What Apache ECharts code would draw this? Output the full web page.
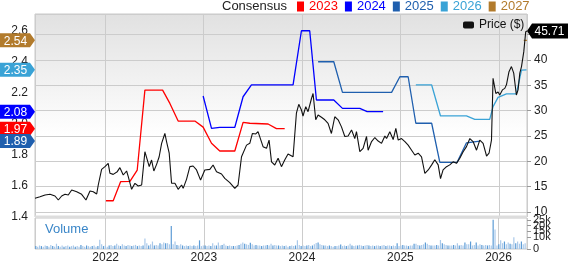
<!DOCTYPE html>
<html><head><meta charset="utf-8">
<script src="https://cdn.jsdelivr.net/npm/echarts@6/dist/echarts.min.js"></script>
<style>html,body{margin:0;padding:0;background:#fff}#c{width:568px;height:264px}</style>
</head><body><div id="c"></div>
<script>
// ---- data (x values are fractional years) ----
const priceT = [2021.286,2021.337,2021.388,2021.439,2021.489,2021.523,2021.557,2021.591,2021.624,2021.659,2021.710,2021.760,2021.804,2021.845,2021.878,2021.913,2021.929,2021.963,2021.997,2022.030,2022.048,2022.081,2022.122,2022.149,2022.183,2022.217,2022.234,2022.268,2022.302,2022.335,2022.370,2022.403,2022.420,2022.447,2022.471,2022.494,2022.522,2022.548,2022.573,2022.606,2022.623,2022.650,2022.674,2022.708,2022.741,2022.776,2022.792,2022.826,2022.860,2022.893,2022.928,2022.969,2023.012,2023.063,2023.096,2023.131,2023.182,2023.215,2023.266,2023.317,2023.350,2023.385,2023.436,2023.469,2023.496,2023.530,2023.553,2023.571,2023.604,2023.639,2023.665,2023.690,2023.723,2023.757,2023.791,2023.824,2023.858,2023.909,2023.943,2023.967,2023.994,2024.010,2024.038,2024.061,2024.096,2024.112,2024.139,2024.163,2024.197,2024.231,2024.264,2024.298,2024.332,2024.366,2024.400,2024.434,2024.467,2024.502,2024.535,2024.552,2024.586,2024.619,2024.654,2024.670,2024.705,2024.738,2024.772,2024.806,2024.840,2024.857,2024.890,2024.924,2024.951,2024.975,2025.009,2025.043,2025.076,2025.111,2025.144,2025.178,2025.212,2025.246,2025.280,2025.315,2025.347,2025.381,2025.405,2025.431,2025.466,2025.499,2025.533,2025.567,2025.601,2025.635,2025.669,2025.703,2025.736,2025.771,2025.804,2025.838,2025.873,2025.898,2025.923,2025.939,2025.967,2025.990,2026.007,2026.034,2026.058,2026.075,2026.101,2026.126,2026.149,2026.176,2026.193,2026.211,2026.228,2026.251,2026.271,2026.284];
const priceV = [12.7,13.0,13.36,13.49,13.16,12.37,13.16,13.49,13.36,14.34,14.0,13.49,12.37,14.14,14.0,13.55,15.33,18.42,18.95,19.6,17.63,17.43,17.96,18.75,17.3,18.09,16.97,14.47,15.66,15.13,15.33,21.9,21.7,18.95,20.26,18.09,19.4,20.9,23.55,25.5,23.9,21.6,15.66,15.66,14.47,15.33,14.67,16.45,18.95,19.08,18.3,16.3,18.3,18.42,19.28,17.96,17.5,16.65,15.8,14.67,15.33,20.9,23.2,23.55,25.5,25.4,25.85,26.2,22.9,22.57,24.2,19.9,19.28,20.6,18.95,20.26,21.45,20.9,29.5,31.25,30.13,28.95,30.8,29.8,32.4,33.4,28.2,29.14,28.7,28.2,27.5,25.5,28.8,28.2,26.8,24.9,25.0,26.2,24.5,25.85,21.9,22.57,24.9,22.2,23.9,24.7,24.0,23.55,25.0,24.5,25.85,24.3,26.5,24.2,24.5,23.9,23.2,22.2,21.25,21.6,20.9,17.6,18.3,19.3,20.3,19.3,16.6,18.3,18.95,19.3,19.9,19.6,20.6,21.9,22.9,24.5,23.9,22.2,24.2,23.55,21.05,21.6,24.2,36.4,33.4,33.7,33.1,34.1,34.4,35.1,37.7,38.7,37.4,33.1,34.1,37.4,38.7,41.6,45.6,45.71];

const c2023T = [2022.007,2022.081,2022.156,2022.251,2022.325,2022.403,2022.583,2022.657,2022.741,2022.911,2022.995,2023.080,2023.164,2023.317,2023.401,2023.469,2023.655,2023.740,2023.824];
const c2023V = [1.505,1.505,1.628,1.63,1.703,2.219,2.219,2.133,2.019,2.019,1.98,1.876,1.826,1.826,2.011,2.005,2.0,1.97,1.97];
const c2024T = [2022.995,2023.080,2023.164,2023.317,2023.401,2023.486,2023.909,2023.994,2024.078,2024.146,2024.322,2024.410,2024.586,2024.660,2024.822];
const c2024V = [2.181,1.972,1.979,1.979,2.176,2.252,2.252,2.602,2.602,2.155,2.155,2.101,2.101,2.08,2.08];
const c2025T = [2024.163,2024.322,2024.410,2024.908,2024.992,2025.076,2025.154,2025.315,2025.398,2025.574,2025.669,2025.804];
const c2025V = [2.402,2.402,2.204,2.204,2.305,2.305,2.005,2.005,1.753,1.753,1.879,1.89];
const c2026T = [2025.154,2025.315,2025.405,2025.669,2025.753,2025.905,2025.939,2025.990,2026.075,2026.176,2026.228,2026.279];
const c2026V = [2.252,2.252,2.052,2.052,2.03,2.03,2.112,2.172,2.195,2.195,2.348,2.35];
const c2027T = [2026.251,2026.284];
const c2027V = [2.54,2.54];

// weekly volume (thousands), first week starting 2021-04-16
const volStart = '2021-04-16';
const volumeK = [
2.5,2,3,2.5,2,3,2.5,2,3.5,2.5,
2,4.5,2.5,2,3,2,2.5,3,2,2.5,
3,2,2.5,2,3.5,2.5,2,3,2.5,2,
2.5,3,2,2.5,8,4,2.5,3,2,3,
3.5,2.5,3,4.5,3,2.5,4,3,2.5,3.5,
3,2.5,3,3.5,2.5,3,2.5,3,9,5,
3,4,6.4,3,3.5,3,5,4,5.5,5,
5,4,19.7,4,6.4,3.5,3,4,3,2.5,
3,2.5,3,2.5,3,2.5,3,7.4,2.5,3,
3,2.5,3,2.5,5,3,3,5.6,3,3.5,
4.4,3,2.5,3,2.5,2.5,2.5,3,3.5,4.5,
5.6,4.5,4,3.5,5.4,4,3,3.5,3,3,
2.5,3,3,3.5,3,4.4,3,3.5,3,3,
2.5,3,2.5,3,2,2.5,3,2.5,3,7.4,
3.5,2.5,3,2.5,3,3.5,2.5,3,4,5.1,
5.6,4,3.5,3,3,2.5,3,2.5,2,2.5,
2.5,3,3.8,2.5,3,2.5,3,4.4,3,2.5,
3,3,3.5,3,2.5,3,3.5,3,2.5,3,
2.5,3,3,2.5,3,3.5,2.5,3,3,2.5,
3,2.5,4.9,2.5,3,3.5,3,3,2.5,3,
3,4.4,4.4,3.5,3,3.5,4,5.6,4.5,3.5,
3,3,3,3.5,3,7.7,4.9,4,3.5,3,
3,3,3.5,3,4.9,3,3.5,3,5.6,4,
4,6.4,3,3.5,5.6,3,4,3.5,3,3.5,
3,3.5,3,25,16.7,3,4,7.4,5,6.4,
4,5.6,4.5,4,10,5,6.4,4.5,6.4,4,4.9];

const years = ['2023','2024','2025','2026','2027'];
const yearColors = ['#ff0000','#0000ff','#1f5fae','#3aa3d6','#b27b2c'];
const xRange = [2021.286, 2026.284];

// ---- helpers ----
function ts(y){const yi=Math.floor(y);const a=Date.UTC(yi,0,1),b=Date.UTC(yi+1,0,1);return a+(y-yi)*(b-a);}
function pairs(T,V){return T.map((t,i)=>[ts(t),V[i]]);}
const F = 'Liberation Sans, Arial, sans-serif';
const xMin = ts(xRange[0]), xMax = ts(xRange[1]);
const volStartMs = Date.parse(volStart + 'T00:00:00Z');
const volData = volumeK.map((v,i)=>[volStartMs + i*7*86400000, v]);

const L = 35, R = 41, TOP = 14;
const leftTag = 'path://M0,0 H30 L35,7 L30,14 H0 Z';
const rightTag = 'path://M5,0 H41 V14 H5 L0,7 Z';

function yearFmt(v){const d=new Date(v);return (d.getUTCMonth()===0&&d.getUTCDate()===1)?String(d.getUTCFullYear()):'';}

const consT = [c2023T,c2024T,c2025T,c2026T,c2027T];
const consV = [c2023V,c2024V,c2025V,c2026V,c2027V];
const consSeries = years.map((y,k)=>{
  const last = consV[k][consV[k].length-1];
  return {
    name:y, type:'line', xAxisIndex:0, yAxisIndex:0, data:pairs(consT[k],consV[k]),
    showSymbol:false, symbol:'none', color:yearColors[k],
    lineStyle:{width:1.3,color:yearColors[k]}, animation:false, z:3,
    markPoint:{silent:true, animation:false,
      symbol:leftTag, symbolSize:[35,14], symbolOffset:[-17.5,0],
      itemStyle:{color:yearColors[k]},
      label:{show:true,position:'inside',offset:[-2,1],color:'#fff',fontSize:12,fontFamily:F,formatter:()=>last.toFixed(2)},
      data:[{coord:[xMin,last]}]}
  };
});
const lastPrice = priceV[priceV.length-1];

const chart = echarts.init(document.getElementById('c'), null, {renderer:'canvas'});
chart.setOption({
  animation:false,
  useUTC:true,
  textStyle:{fontFamily:F},
  title:{text:'Consensus', left:222, top:0, padding:0, textStyle:{fontSize:13,fontWeight:'normal',color:'#222',fontFamily:F}},
  legend:[
    {left:297, top:0, padding:0, itemGap:7, itemWidth:7, itemHeight:10, icon:'rect',
     textStyle:{fontSize:13,fontFamily:F},
     data:years.map((y,k)=>({name:y, textStyle:{color:yearColors[k]}}))},
    {left:463, top:19, padding:0, itemWidth:11, itemHeight:7, icon:'roundRect',
     textStyle:{fontSize:12,color:'#111',fontFamily:F}, data:['Price ($)']}
  ],
  graphic:[
    {type:'rect', z:-100, silent:true, shape:{x:L,y:TOP,width:568-L-R,height:203},
     style:{fill:new echarts.graphic.LinearGradient(0,0,0,1,[{offset:0,color:'#e1e1e1'},{offset:0.6,color:'#ffffff'},{offset:1,color:'#ffffff'}])}},
    {type:'rect', z:50, silent:true, shape:{x:L,y:215.5,width:568-L-R,height:2.5}, style:{fill:'#dddddd'}},
    {type:'text', z:50, silent:true, left:45, top:223, style:{text:'Volume', fill:'#3a86c8', font:'13px '+F}}
  ],
  grid:[
    {left:L, right:R, top:TOP, height:203, show:true, borderColor:'#c8c8c8', borderWidth:1, backgroundColor:'transparent'},
    {left:L, right:R, top:TOP, height:198, show:false},
    {left:L, right:R, top:218, height:36, show:true, borderColor:'#c8c8c8', borderWidth:1, backgroundColor:'#fff'}
  ],
  xAxis:[
    {type:'time', gridIndex:0, min:xMin, max:xMax, splitNumber:5, minInterval:365*86400000,
     axisLine:{show:false}, axisTick:{show:false}, axisLabel:{show:false},
     splitLine:{show:true, lineStyle:{color:'#cccccc',width:1}}},
    {type:'time', gridIndex:1, min:xMin, max:xMax, show:false, splitLine:{show:false}},
    {type:'time', gridIndex:2, min:xMin, max:xMax, splitNumber:5, minInterval:365*86400000,
     axisLine:{show:false}, axisTick:{show:false},
     axisLabel:{show:true, formatter:yearFmt, fontSize:12, color:'#222', margin:3, fontFamily:F, showMinLabel:false, showMaxLabel:false},
     splitLine:{show:true, lineStyle:{color:'#cccccc',width:1}}}
  ],
  yAxis:[
    {type:'value', gridIndex:0, position:'left', min:1.4, max:2.71, interval:0.2,
     axisLine:{show:false}, axisTick:{show:false}, splitLine:{show:false},
     axisLabel:{fontSize:12, color:'#222', margin:7, fontFamily:F, showMaxLabel:false, formatter:v=>v.toFixed(1)}},
    {type:'value', gridIndex:1, position:'right', min:10, max:49.08, interval:5,
     axisLine:{show:false}, axisTick:{show:true, length:4, lineStyle:{color:'#999'}},
     splitLine:{show:true, lineStyle:{color:'#cccccc',width:1}},
     axisLabel:{fontSize:12, color:'#222', margin:7, fontFamily:F, showMaxLabel:false, formatter:v=>(v>44)?'':String(v)}},
    {type:'value', gridIndex:2, position:'right', min:0, max:26.5, interval:5,
     axisLine:{show:false}, axisTick:{show:true, length:4, lineStyle:{color:'#999'}},
     splitLine:{show:false},
     axisLabel:{fontSize:11, color:'#222', margin:6, fontFamily:F, showMinLabel:true, showMaxLabel:false, hideOverlap:false, lineHeight:9, formatter:v=>v===0?'0':v+'k'}}
  ],
  series:[
    {name:'Volume', type:'bar', xAxisIndex:2, yAxisIndex:2, data:volData, barWidth:1.2, animation:false,
     itemStyle:{color:p=>(p.dataIndex%3===0)?'#5d9cd6':'#aac9ea'}},
    {name:'Price ($)', type:'line', xAxisIndex:1, yAxisIndex:1, data:pairs(priceT,priceV),
     showSymbol:false, symbol:'none', color:'#111', lineStyle:{width:1.1,color:'#111'}, z:4, animation:false,
     markPoint:{silent:true, animation:false, symbol:rightTag, symbolSize:[41,15], symbolOffset:[20.5,0],
      itemStyle:{color:'#000'},
      label:{show:true,position:'inside',offset:[2,1],color:'#fff',fontSize:12,fontFamily:F,formatter:()=>lastPrice.toFixed(2)},
      data:[{coord:[xMax,lastPrice]}]}},
  ].concat(consSeries)
});
</script></body></html>
